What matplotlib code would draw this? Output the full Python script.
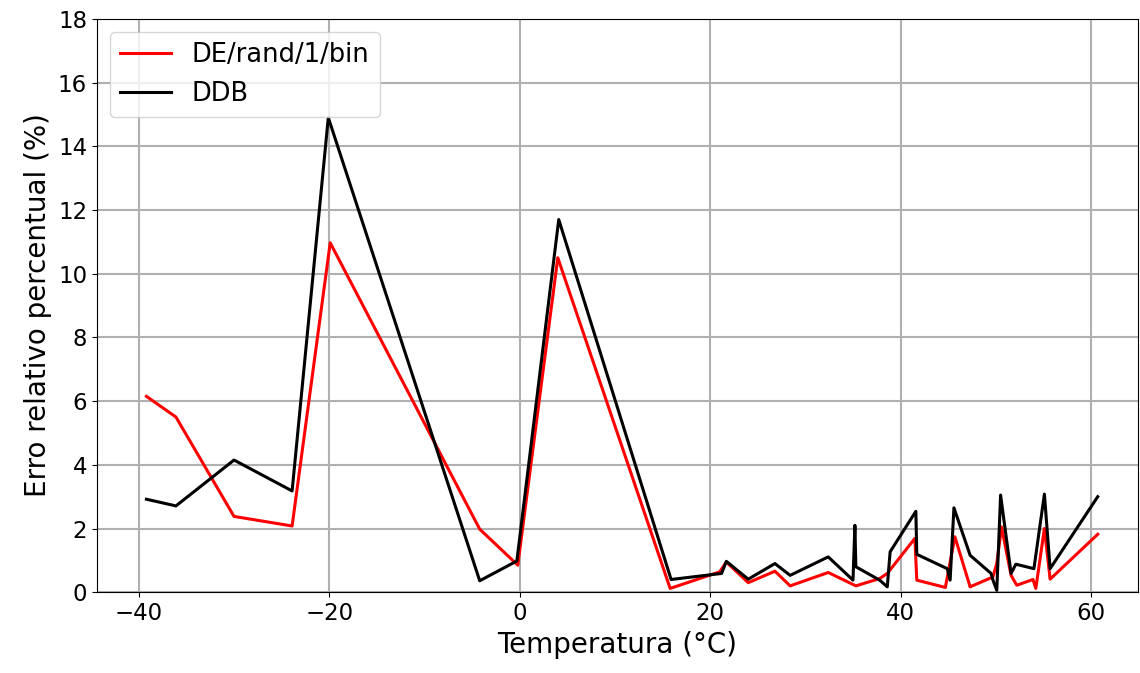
import numpy as np
from matplotlib import pyplot as plt

# DE/rand/1/bin
x_de = [-39.2, -36.1, -30.0, -23.9, -19.9, -4.2, -0.2, 4.0, 15.8, 21.0, 21.7, 24.0, 26.8, 28.4,
        32.4, 35.3, 37.8, 38.6, 41.5, 41.7, 44.7, 45.7, 47.3, 49.7, 50.1, 50.6, 51.6, 52.2,
        53.9, 54.2, 55.1, 55.7, 60.7]
y_de = [6.15, 5.5, 2.38, 2.08, 10.97, 1.98, 0.85, 10.5, 0.12, 0.64, 0.95, 0.30, 0.66, 0.2,
        0.62, 0.2, 0.43, 0.59, 1.69, 0.38, 0.15, 1.74, 0.17, 0.48, 0.91, 2.05, 0.53, 0.22,
        0.4, 0.12, 2.0, 0.41, 1.82]

# DDB
x_ddb = [-39.2, -36.1, -30.0, -23.9, -20.1, -4.2, -0.3, 4.1, 15.9, 21.2, 21.7, 24.0, 26.8, 28.4,
         32.4, 35.0, 35.2, 35.3, 37.8, 38.6, 38.9, 41.6, 41.7, 44.9, 45.2, 45.6, 47.3, 49.5,
         49.7, 50.1, 50.5, 51.6, 52.1, 54.0, 55.1, 55.7, 60.7]
y_ddb = [2.92, 2.71, 4.15, 3.18, 14.9, 0.36, 0.98, 11.7, 0.4, 0.59, 0.97, 0.41, 0.9, 0.53,
         1.11, 0.38, 2.1, 0.8, 0.38, 0.17, 1.27, 2.54, 1.19, 0.74, 0.38, 2.65, 1.16, 0.59,
         0.38, 0.06, 3.05, 0.59, 0.88, 0.74, 3.08, 0.74, 3.0]

plt.rcParams['font.size'] = 16.5
fig = plt.figure(figsize=(11.4, 6.73), dpi=100)
ax = fig.add_axes([0.085, 0.12, 0.913, 0.852])
ax.plot(x_de, y_de, color='red', lw=2.2, label='DE/rand/1/bin')
ax.plot(x_ddb, y_ddb, color='black', lw=2.2, label='DDB')
ax.set_xlim(-44.4, 64.9)
ax.set_ylim(0, 18)
ax.set_yticks(np.arange(0, 19, 2))
ax.set_xlabel('Temperatura (°C)', fontsize=20)
ax.set_ylabel('Erro relativo percentual (%)', fontsize=20)
ax.grid(color='#b0b0b0', lw=1.5)
ax.legend(loc='upper left', fontsize=18.5)
fig.savefig('out.png')
